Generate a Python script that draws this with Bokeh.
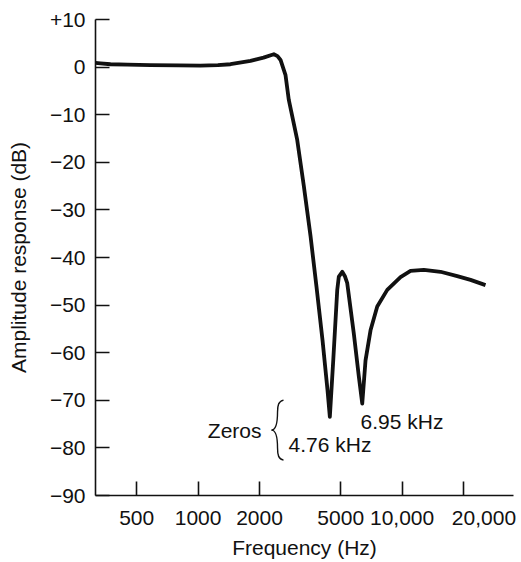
from bokeh.plotting import figure
from bokeh.models import FixedTicker, Label
from bokeh.embed import file_html
from bokeh.resources import INLINE

# ---- data ----
freq_hz = [314, 332, 372, 450, 584, 800, 1027, 1250, 1441, 1806, 2092, 2350, 2450,
           2535, 2682, 2783, 3060, 3297, 3556, 3805, 4072, 4308, 4422, 4600, 4808, 4895,
           5087, 5250, 5382, 5798, 6134, 6375, 6616, 7000, 7551, 8453, 9822, 10995,
           12778, 15428, 18626, 21642, 25630]
response_db = [0.9, 0.8, 0.6, 0.5, 0.4, 0.35, 0.3, 0.4, 0.6, 1.3, 2.0, 2.7, 2.3,
               1.5, -1.7, -6.9, -15.3, -25.0, -35.5, -46.2, -57.4, -67.9, -73.5, -61.3, -46.8, -44.0,
               -43.0, -44.0, -45.4, -56.0, -65.0, -70.7, -61.6, -55.3, -50.3, -46.8, -44.1, -42.8,
               -42.6, -43.0, -43.9, -44.7, -45.8]

x_ticks = [500, 1000, 2000, 5000, 10000, 20000]
x_tick_labels = ["500", "1000", "2000", "5000", "10,000", "20,000"]
y_ticks = [10, 0, -10, -20, -30, -40, -50, -60, -70, -80, -90]
y_tick_labels = ["+10", "0", "\u221210", "\u221220", "\u221230", "\u221240",
                 "\u221250", "\u221260", "\u221270", "\u221280", "\u221290"]

zeros_label = "Zeros"
zero_labels = ["4.76 kHz", "6.95 kHz"]

FONT = "Liberation Sans"
INK = "#111111"

p = figure(frame_width=418, frame_height=476, x_axis_type="log",
           x_range=(314, 35150), y_range=(-90, 10),
           output_backend="svg", toolbar_location=None,
           min_border_left=95, min_border_top=19, min_border_right=8,
           min_border_bottom=50)
p.outline_line_color = None
p.xgrid.visible = False
p.ygrid.visible = False
p.background_fill_color = "white"

p.line(freq_hz, response_db, line_color=INK, line_width=3.8, line_join="round")

# axes
for ax in (p.xaxis[0], p.yaxis[0]):
    ax.axis_line_color = INK
    ax.axis_line_width = 1.6
    ax.major_tick_line_color = INK
    ax.major_tick_line_width = 1.6
    ax.major_tick_in = 14
    ax.major_tick_out = 0
    ax.minor_tick_line_color = None
    ax.major_label_text_font = FONT
    ax.major_label_text_font_size = "21px"
    ax.major_label_text_color = INK
    ax.axis_label_text_font = FONT
    ax.axis_label_text_font_size = "21px"
    ax.axis_label_text_font_style = "normal"
    ax.axis_label_text_color = INK

# the 20,000 label sits to the right of its tick in the reference
x_overrides = dict(zip(x_ticks, x_tick_labels))
x_overrides[20000] = "\u00a0" * 7 + x_tick_labels[-1]
p.xaxis.ticker = FixedTicker(ticks=x_ticks)
p.xaxis.major_label_overrides = x_overrides
p.xaxis.major_label_standoff = 10
p.xaxis.axis_label = "Frequency (Hz)"
p.xaxis.axis_label_standoff = 4

p.yaxis.ticker = FixedTicker(ticks=y_ticks)
p.yaxis.major_label_overrides = dict(zip(y_ticks, y_tick_labels))
p.yaxis.major_label_standoff = 10
p.yaxis.axis_label = "Amplitude response (dB)"
p.yaxis.axis_label_standoff = 17


# ---- annotations (page-pixel helper based on the axis mapping) ----
def fx(px):
    return 10 ** (3.5 + (px - 299.6) / 204.0)


def fy(py):
    return (67.0 - py) / 4.76


p.add_layout(Label(x=fx(261), y=fy(430), text=zeros_label, text_align="right",
                   text_baseline="middle", text_font=FONT, text_font_size="21px",
                   text_color=INK))
p.add_layout(Label(x=fx(288), y=fy(444), text=zero_labels[0], text_align="left",
                   text_baseline="middle", text_font=FONT, text_font_size="21px",
                   text_color=INK))
p.add_layout(Label(x=fx(360), y=fy(421), text=zero_labels[1], text_align="left",
                   text_baseline="middle", text_font=FONT, text_font_size="21px",
                   text_color=INK))

# curly brace
bx0 = [fx(283), fx(277), fx(271), fx(277)]
by0 = [fy(400), fy(412), fy(430), fy(448)]
bx1 = [fx(277), fx(271), fx(277), fx(283)]
by1 = [fy(412), fy(430), fy(448), fy(460)]
bcx0 = [fx(278), fx(277), fx(275), fx(277)]
bcy0 = [fy(401), fy(424), fy(430), fy(455)]
bcx1 = [fx(277), fx(275), fx(277), fx(278)]
bcy1 = [fy(405), fy(430), fy(436), fy(459)]
p.bezier(x0=bx0, y0=by0, x1=bx1, y1=by1, cx0=bcx0, cy0=bcy0, cx1=bcx1, cy1=bcy1,
         line_color=INK, line_width=1.4)

open("out.html", "w").write(file_html(p, INLINE))
